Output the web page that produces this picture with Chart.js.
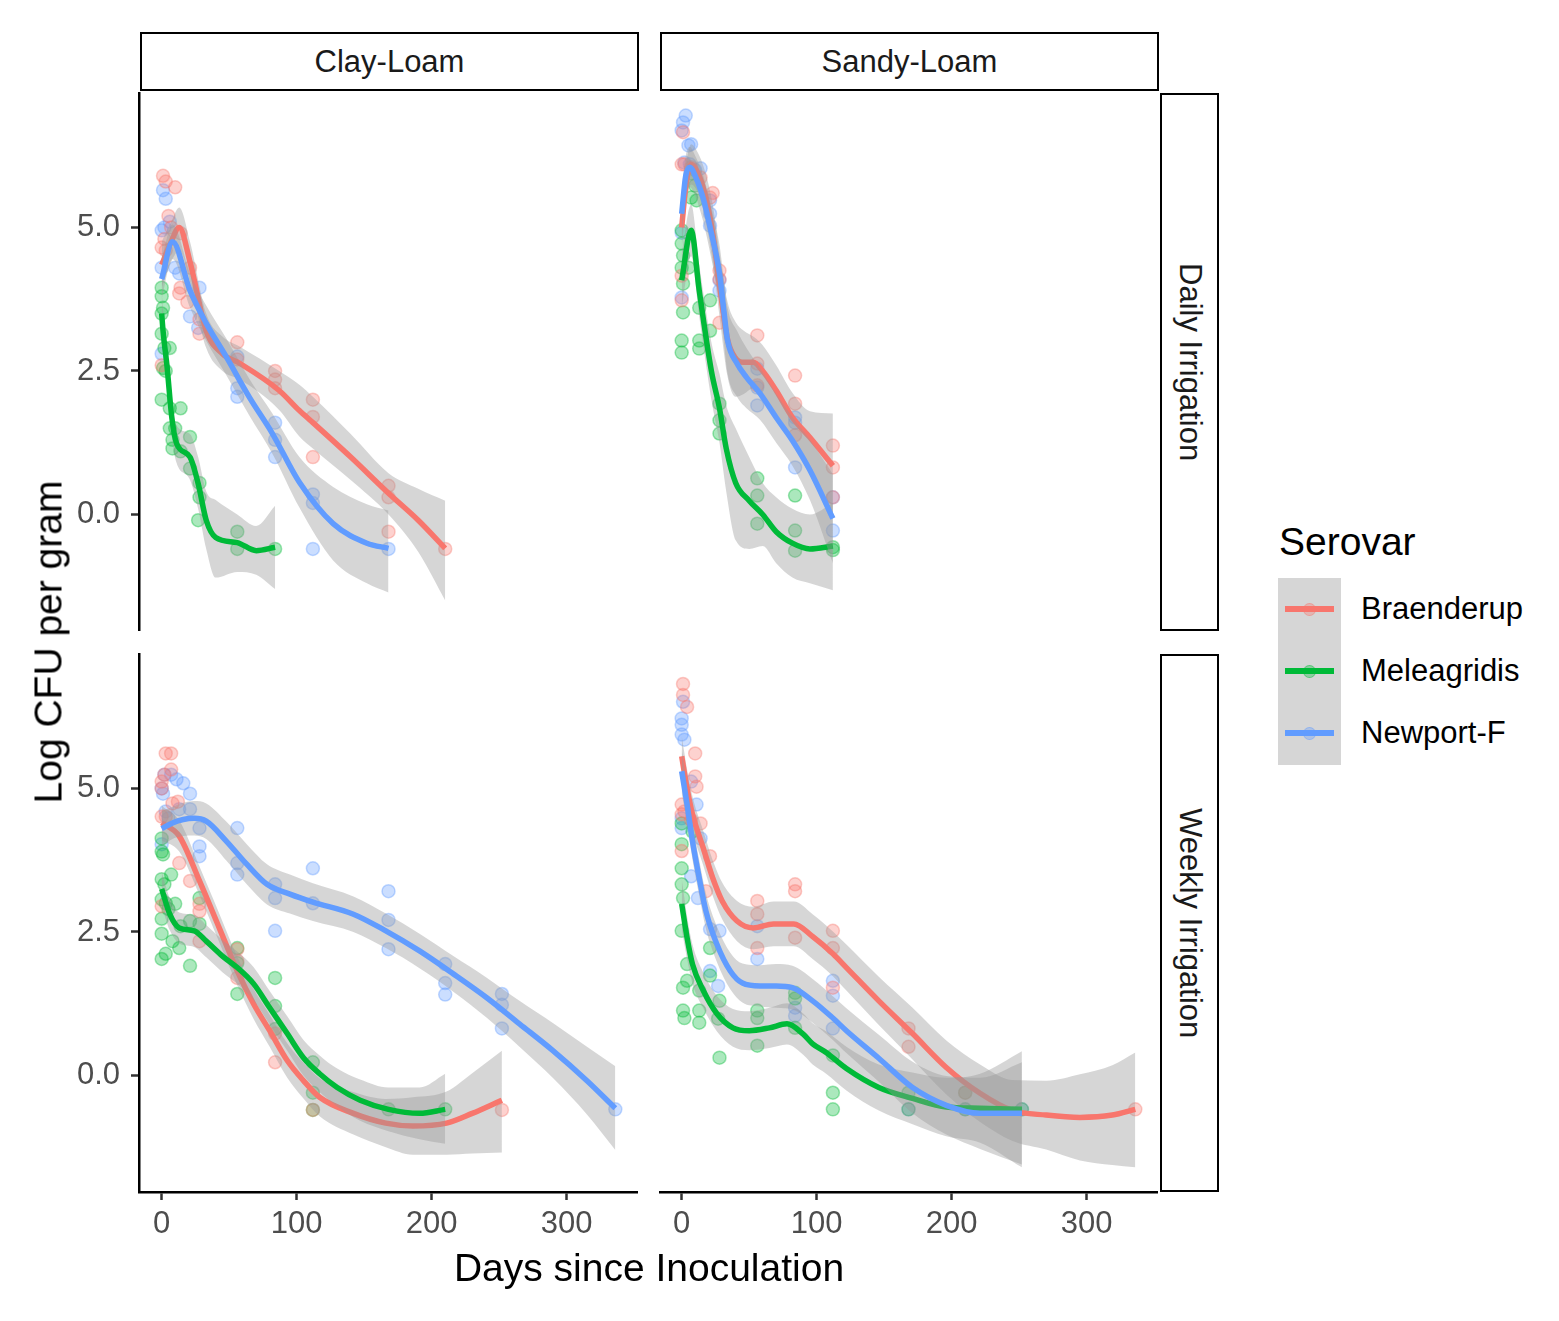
<!DOCTYPE html>
<html>
<head>
<meta charset="utf-8">
<script src="https://cdn.jsdelivr.net/npm/chart.js@4.4.1/dist/chart.umd.min.js"></script>
<style>
  html, body { margin: 0; padding: 0; background: #fff; }
  body { width: 1559px; height: 1321px; position: relative; overflow: hidden;
         font-family: "Liberation Sans", Arial, sans-serif; }
  canvas { position: absolute; }
  .strip { position: absolute; box-sizing: border-box; border: 2.5px solid #000; background: #fff;
           color: #1a1a1a; font-size: 31px; display: flex; align-items: center; justify-content: center; }
  .strip.side span { writing-mode: vertical-rl; }
  .title { position: absolute; font-size: 39px; color: #000; white-space: nowrap; line-height: 1; }
  .legend-label { position: absolute; font-size: 31px; color: #000; line-height: 1; white-space: nowrap; }
</style>
</head>
<body>
<script>
// ---- data ---------------------------------------------------------------
const serovars = ['Braenderup', 'Meleagridis', 'Newport-F'];
const soilTypes = ['Clay-Loam', 'Sandy-Loam'];
const irrigationTypes = ['Daily Irrigation', 'Weekly Irrigation'];
const dayTicks = [0, 100, 200, 300];
const logTicks = [0, 2.5, 5];

// observations: [day, log CFU per gram]
const clayDailyBra = [[0,2.6],[0,4.65],[1,5.9],[2,4.8],[3,5.8],[3,4.6],[5,5.2],[7,5.0],[10,5.7],[13,3.85],[14,4.9],[14,3.95],[19,3.7],[21,4.3],[28,3.15],[28,3.4],[56,3.0],[56,2.7],[84,2.5],[84,2.35],[84,2.2],[112,2.0],[112,1.7],[112,1.0],[168,0.5],[168,0.3],[168,-0.3],[210,-0.6]];
const clayDailyMel = [[0,3.95],[0,3.8],[1,3.6],[0,3.5],[0,3.15],[2,2.9],[6,2.9],[1,2.55],[3,2.5],[0,2.0],[6,1.85],[14,1.85],[6,1.5],[10,1.5],[8,1.3],[21,1.35],[8,1.15],[14,1.1],[21,0.8],[28,0.55],[28,0.3],[27,-0.1],[56,-0.3],[56,-0.6],[84,-0.6]];
const clayDailyNew = [[1,5.65],[3,5.5],[2,5.0],[0,4.95],[6,5.1],[0,4.3],[13,4.2],[10,4.3],[28,3.95],[21,3.45],[27,3.25],[0,2.8],[56,2.75],[56,2.2],[56,2.05],[84,1.6],[84,1.3],[84,1.0],[112,0.35],[112,0.2],[112,-0.6],[168,-0.6]];

const sandyDailyBra = [[1,6.66],[2,6.1],[0,6.1],[7,6.05],[14,5.87],[21,5.52],[23,5.6],[28,4.25],[28,4.1],[0,4.16],[0,3.73],[28,3.34],[56,3.12],[56,2.63],[56,2.25],[84,2.42],[84,1.93],[84,1.38],[112,1.2],[112,0.82],[112,0.3]];
const sandyDailyMel = [[7,5.94],[10,5.73],[7,5.52],[11,5.47],[0,4.95],[0,4.72],[1,4.51],[0,4.3],[5,4.3],[1,4.02],[1,3.52],[13,3.6],[21,3.73],[21,3.2],[0,3.03],[0,2.82],[13,3.03],[13,2.89],[28,1.93],[28,1.64],[28,1.41],[56,0.63],[56,0.33],[56,-0.16],[84,0.33],[84,-0.28],[84,-0.63],[112,-0.57],[112,-0.62]];
const sandyDailyNew = [[3,6.95],[1,6.83],[0,6.69],[5,6.43],[7,6.45],[2,6.13],[6,6.1],[14,6.03],[10,6.0],[21,5.47],[21,5.24],[21,5.03],[0,4.91],[0,3.78],[28,4.08],[28,3.9],[56,2.54],[56,2.21],[56,1.9],[84,1.69],[84,1.6],[84,0.82],[112,0.3],[112,-0.28]];

const clayWeeklyBra = [[3,5.61],[7,5.61],[7,5.33],[0,5.12],[2,5.24],[0,5.0],[12,4.77],[8,4.74],[0,4.51],[3,4.51],[13,3.7],[21,3.39],[28,2.99],[28,2.86],[28,2.34],[0,2.95],[56,2.2],[56,2.0],[56,1.7],[84,0.73],[84,0.23],[112,-0.6],[252,-0.6]];
const clayWeeklyMel = [[0,4.13],[0,3.9],[1,3.85],[7,3.5],[0,3.42],[2,3.33],[0,3.07],[3,3.0],[28,3.09],[10,2.99],[5,2.9],[0,2.73],[21,2.69],[28,2.64],[14,2.6],[0,2.47],[8,2.34],[13,2.22],[0,2.03],[3,2.12],[21,1.91],[56,2.22],[56,1.96],[56,1.42],[84,1.7],[84,1.21],[84,0.81],[112,0.23],[112,-0.3],[112,-0.6],[168,-0.59],[210,-0.59]];
const clayWeeklyNew = [[2,5.24],[7,5.24],[11,5.16],[16,5.09],[1,4.91],[21,4.91],[0,5.0],[13,4.64],[21,4.64],[5,4.48],[3,4.6],[28,4.31],[0,4.03],[28,3.99],[28,3.82],[56,4.31],[56,3.7],[56,3.5],[84,3.33],[84,3.09],[84,2.52],[112,3.61],[112,3.0],[168,3.21],[168,2.71],[168,2.2],[210,1.94],[210,1.61],[210,1.41],[252,1.42],[252,1.23],[252,0.82],[336,-0.59]];

const sandyWeeklyBra = [[1,6.82],[1,6.63],[4,6.42],[10,5.61],[10,5.21],[11,5.03],[0,4.72],[2,4.6],[0,4.55],[7,4.45],[14,4.39],[0,3.91],[21,3.82],[18,3.21],[56,3.04],[56,2.81],[84,3.33],[84,3.21],[84,2.4],[56,2.22],[112,2.52],[112,2.22],[112,1.53],[168,0.82],[168,0.5],[210,-0.3],[336,-0.59]];
const sandyWeeklyMel = [[0,4.39],[0,4.03],[8,4.25],[0,3.61],[0,3.33],[1,3.09],[0,2.52],[4,1.94],[4,1.65],[1,1.53],[13,1.48],[1,1.13],[2,1.0],[13,1.13],[13,0.92],[21,2.22],[21,1.74],[28,1.3],[27,0.99],[28,0.31],[56,1.13],[56,1.0],[56,0.52],[84,1.44],[84,1.34],[84,0.83],[112,0.35],[112,-0.3],[112,-0.59],[168,-0.3],[168,-0.59],[210,-0.3],[210,-0.59],[252,-0.59]];
const sandyWeeklyNew = [[1,6.51],[0,6.22],[0,6.11],[0,5.94],[2,5.85],[7,5.12],[11,4.72],[0,4.31],[0,4.48],[14,4.13],[7,3.47],[12,3.09],[21,2.55],[28,2.52],[21,1.82],[27,1.56],[56,2.6],[56,2.03],[84,1.18],[84,1.04],[112,1.65],[112,1.39],[112,0.82],[168,-0.59],[210,-0.59],[252,-0.59]];

// loess smooth: [day, fit, lower, upper]
const clayDailyBraFit = [[0,4.35,3.95,4.75],[7,4.75,4.4,5.1],[13,5.0,4.6,5.35],[21,4.4,4.05,4.75],[33,3.2,2.9,3.5],[45,2.8,2.5,3.1],[58,2.63,2.35,2.92],[87,2.16,1.82,2.5],[102,1.81,1.36,2.26],[112,1.6,1.15,2.05],[140,1.0,0.6,1.4],[168,0.37,0.0,0.72],[190,-0.1,-0.65,0.45],[210,-0.59,-1.5,0.24]];
const clayDailyMelFit = [[0,3.5,3.1,3.9],[1,3.2,2.85,3.55],[4,2.57,2.25,2.9],[7.5,1.69,1.35,2.0],[11,1.24,0.9,1.55],[21,1.0,0.6,1.4],[27,0.54,0.1,1.0],[33,-0.1,-0.6,0.4],[40,-0.4,-1.1,0.25],[56,-0.49,-1.0,0.0],[70,-0.63,-1.05,-0.2],[84,-0.57,-1.3,0.15]];
const clayDailyNewFit = [[0,4.1,3.75,4.45],[8,4.75,4.45,5.05],[21,3.9,3.6,4.2],[33,3.33,3.02,3.64],[48,2.74,2.42,3.06],[65,2.04,1.72,2.36],[82,1.41,1.06,1.76],[102,0.56,0.12,1.0],[127,-0.16,-0.8,0.48],[152,-0.5,-1.2,0.18],[168,-0.59,-1.36,0.07]];

const sandyDailyBraFit = [[0,5.0,4.6,5.4],[3,5.7,5.35,6.05],[7,6.1,5.75,6.45],[12,5.95,5.6,6.3],[17,5.6,5.2,6.0],[23,4.9,4.4,5.4],[28,4.0,3.45,4.55],[34,3.05,2.4,3.7],[40,2.72,2.05,3.35],[46,2.65,2.1,3.2],[53,2.65,2.2,3.1],[60,2.5,2.05,2.95],[70,2.16,1.72,2.6],[82,1.69,1.25,2.12],[95,1.34,0.85,1.8],[112,0.85,-0.05,1.76]];
const sandyDailyMelFit = [[0,4.08,3.6,4.55],[7,4.95,4.5,5.4],[13,3.9,3.45,4.35],[22,2.5,2.0,3.0],[28,1.85,1.25,2.45],[33,1.15,0.4,1.9],[40,0.55,-0.45,1.5],[50,0.24,-0.6,1.0],[60,0.0,-0.55,0.55],[70,-0.3,-0.85,0.3],[82,-0.5,-1.1,0.1],[95,-0.6,-1.2,0.0],[112,-0.55,-1.32,0.2]];
const sandyDailyNewFit = [[0,5.24,4.85,5.65],[3,5.9,5.55,6.25],[6,6.05,5.7,6.4],[10,5.9,5.55,6.25],[16,5.5,5.1,5.9],[22,4.9,4.45,5.35],[28,4.2,3.7,4.7],[31,3.6,3.05,4.15],[34,3.03,2.45,3.6],[41,2.63,2.05,3.2],[48,2.39,1.85,2.9],[58,2.11,1.65,2.55],[70,1.69,1.25,2.1],[82,1.29,0.85,1.7],[95,0.77,0.25,1.3],[112,-0.07,-0.85,0.7]];

const clayWeeklyBraFit = [[0,4.4,4.1,4.7],[13,4.17,3.9,4.44],[28,3.39,3.14,3.64],[43,2.55,2.3,2.8],[56,1.82,1.57,2.07],[68,1.25,0.99,1.51],[80,0.78,0.5,1.06],[93,0.26,-0.04,0.56],[105,-0.09,-0.4,0.22],[117,-0.38,-0.71,-0.05],[142,-0.66,-1.03,-0.29],[166,-0.83,-1.25,-0.41],[186,-0.88,-1.38,-0.38],[211,-0.83,-1.38,-0.28],[230,-0.66,-1.36,0.04],[252,-0.43,-1.34,0.43]];
const clayWeeklyMelFit = [[0,3.25,2.95,3.55],[6,2.81,2.53,3.09],[13,2.57,2.3,2.84],[24,2.52,2.24,2.8],[33,2.34,2.06,2.62],[45,2.08,1.8,2.36],[56,1.88,1.6,2.16],[68,1.6,1.31,1.89],[80,1.18,0.89,1.47],[93,0.73,0.43,1.03],[105,0.31,0.0,0.62],[117,0.03,-0.29,0.35],[130,-0.21,-0.54,0.12],[147,-0.43,-0.79,-0.07],[168,-0.59,-0.97,-0.21],[191,-0.66,-1.11,-0.21],[210,-0.59,-1.19,0.03]];
const clayWeeklyNewFit = [[0,4.3,4.0,4.6],[8,4.4,4.12,4.68],[16,4.46,4.17,4.75],[24,4.48,4.18,4.78],[33,4.43,4.12,4.74],[48,4.08,3.74,4.42],[63,3.68,3.33,4.03],[78,3.33,2.98,3.68],[95,3.16,2.82,3.5],[112,3.02,2.69,3.35],[142,2.81,2.5,3.12],[166,2.52,2.22,2.82],[191,2.17,1.87,2.47],[216,1.77,1.46,2.08],[241,1.35,1.0,1.7],[265,0.9,0.5,1.3],[290,0.43,-0.05,0.91],[315,-0.09,-0.68,0.5],[336,-0.57,-1.3,0.16]];

const sandyWeeklyBraFit = [[0,5.56,5.2,5.92],[4,5.0,4.67,5.33],[8,4.55,4.24,4.86],[16,3.96,3.66,4.26],[23,3.44,3.13,3.75],[30,3.04,2.72,3.36],[41,2.69,2.34,3.04],[53,2.57,2.2,2.94],[68,2.64,2.25,3.03],[83,2.64,2.25,3.03],[97,2.42,2.03,2.81],[112,2.12,1.73,2.51],[122,1.88,1.48,2.28],[146,1.3,0.88,1.72],[171,0.73,0.28,1.18],[196,0.14,-0.33,0.61],[221,-0.31,-0.81,0.19],[245,-0.61,-1.14,-0.08],[270,-0.69,-1.29,-0.09],[295,-0.73,-1.48,0.02],[319,-0.69,-1.56,0.18],[336,-0.59,-1.6,0.4]];
const sandyWeeklyMelFit = [[0,2.99,2.55,3.43],[4,2.4,2.03,2.77],[8,1.94,1.6,2.28],[16,1.48,1.17,1.79],[26,1.08,0.77,1.39],[38,0.83,0.5,1.16],[50,0.78,0.44,1.12],[65,0.83,0.48,1.18],[78,0.9,0.54,1.26],[90,0.72,0.36,1.08],[97,0.55,0.19,0.91],[107,0.4,0.03,0.77],[122,0.12,-0.26,0.5],[146,-0.21,-0.61,0.19],[171,-0.4,-0.85,0.05],[196,-0.55,-1.06,-0.04],[221,-0.57,-1.17,0.03],[252,-0.59,-1.6,0.42]];
const sandyWeeklyNewFit = [[0,5.3,4.92,5.68],[4,4.72,4.38,5.06],[8,4.08,3.76,4.4],[13,3.44,3.13,3.75],[18,2.86,2.55,3.17],[26,2.29,1.98,2.6],[36,1.82,1.5,2.14],[45,1.61,1.27,1.95],[58,1.56,1.2,1.92],[70,1.56,1.18,1.94],[82,1.53,1.15,1.91],[97,1.3,0.92,1.68],[112,1.0,0.62,1.38],[122,0.78,0.39,1.17],[146,0.3,-0.11,0.71],[171,-0.21,-0.66,0.24],[196,-0.52,-1.03,-0.01],[221,-0.66,-1.28,-0.04],[252,-0.66,-1.55,0.23]];

// ---- look -----------------------------------------------------------------
const colours = ['#F8766D', '#00BA38', '#619CFF'];
const FONT = '"Liberation Sans", Arial, sans-serif';
const PANEL_W = 499, PANEL_H = 539, Y_AXIS_W = 139, X_AXIS_H = 90;
const colLeft = [139, 659];
const rowTop = [92, 653];

const panels = [
  { row: 0, col: 0, pts: [clayDailyBra, clayDailyMel, clayDailyNew], fits: [clayDailyBraFit, clayDailyMelFit, clayDailyNewFit] },
  { row: 0, col: 1, pts: [sandyDailyBra, sandyDailyMel, sandyDailyNew], fits: [sandyDailyBraFit, sandyDailyMelFit, sandyDailyNewFit] },
  { row: 1, col: 0, pts: [clayWeeklyBra, clayWeeklyMel, clayWeeklyNew], fits: [clayWeeklyBraFit, clayWeeklyMelFit, clayWeeklyNewFit] },
  { row: 1, col: 1, pts: [sandyWeeklyBra, sandyWeeklyMel, sandyWeeklyNew], fits: [sandyWeeklyBraFit, sandyWeeklyMelFit, sandyWeeklyNewFit] }
];

function rgba(hex, a) {
  const n = parseInt(hex.slice(1), 16);
  return 'rgba(' + (n >> 16) + ',' + ((n >> 8) & 255) + ',' + (n & 255) + ',' + a + ')';
}

function column(rows, i) {
  return rows.map(r => ({ x: r[0], y: r[i] }));
}

function buildDatasets(p) {
  const sets = [];
  p.pts.forEach((rows, s) => {
    sets.push({
      label: serovars[s], data: column(rows, 1), order: 100,
      pointRadius: 6.5, pointBackgroundColor: rgba(colours[s], 0.33),
      pointBorderColor: rgba(colours[s], 0.38), pointBorderWidth: 1.5
    });
  });
  p.fits.forEach((rows, s) => {
    const base = 90 - s * 10;
    sets.push({
      type: 'line', data: column(rows, 2), order: base,
      borderColor: 'rgba(0,0,0,0)', borderWidth: 0, pointRadius: 0,
      cubicInterpolationMode: 'monotone', fill: false
    });
    sets.push({
      type: 'line', data: column(rows, 3), order: base - 1,
      borderColor: 'rgba(0,0,0,0)', borderWidth: 0, pointRadius: 0,
      cubicInterpolationMode: 'monotone',
      fill: '-1', backgroundColor: 'rgba(153,153,153,0.4)'
    });
    sets.push({
      type: 'line', data: column(rows, 1), order: base - 2,
      borderColor: colours[s], borderWidth: 5.5, pointRadius: 0,
      cubicInterpolationMode: 'monotone', fill: false
    });
  });
  return sets;
}

function axisStyle(show) {
  return {
    grid: { display: show, drawOnChartArea: false, drawTicks: true, tickLength: 8, tickWidth: 2.5, tickColor: '#333333' },
    border: { display: show, color: '#000', width: 2.5 }
  };
}

panels.forEach(p => {
  const showY = p.col === 0, showX = p.row === 1;
  const cv = document.createElement('canvas');
  const left = showY ? 0 : colLeft[p.col];
  const w = PANEL_W + (showY ? Y_AXIS_W : 0);
  const h = PANEL_H + (showX ? X_AXIS_H : 0);
  cv.width = w; cv.height = h;
  cv.style.left = left + 'px'; cv.style.top = rowTop[p.row] + 'px';
  cv.style.width = w + 'px'; cv.style.height = h + 'px';
  document.body.appendChild(cv);

  const xAxis = Object.assign({
    type: 'linear', min: -16.8, max: 352.8, display: showX,
    afterBuildTicks: s => { s.ticks = dayTicks.map(v => ({ value: v })); },
    ticks: { autoSkip: false, maxRotation: 0, padding: 6, color: '#4D4D4D',
             font: { family: FONT, size: 31 }, callback: v => String(v) }
  }, axisStyle(showX));
  if (showX) xAxis.afterFit = s => { s.height = X_AXIS_H; s.paddingLeft = 0; s.paddingRight = 0; };

  const yAxis = Object.assign({
    type: 'linear', min: -2.03, max: 7.36, display: showY,
    afterBuildTicks: s => { s.ticks = logTicks.map(v => ({ value: v })); },
    ticks: { autoSkip: false, padding: 11, color: '#4D4D4D',
             font: { family: FONT, size: 31 }, callback: v => Number(v).toFixed(1) }
  }, axisStyle(showY));
  if (showY) yAxis.afterFit = s => { s.width = Y_AXIS_W; s.paddingTop = 0; s.paddingBottom = 0; };

  new Chart(cv, {
    type: 'scatter',
    data: { datasets: buildDatasets(p) },
    options: {
      responsive: false, animation: false, events: [],
      layout: { padding: 0, autoPadding: false },
      plugins: { legend: { display: false }, tooltip: { enabled: false } },
      scales: { x: xAxis, y: yAxis }
    }
  });
});

// ---- facet strips ---------------------------------------------------------
soilTypes.forEach((name, c) => {
  const d = document.createElement('div');
  d.className = 'strip';
  d.style.left = (colLeft[c] + 1) + 'px'; d.style.top = '32px';
  d.style.width = PANEL_W + 'px'; d.style.height = '59px';
  d.textContent = name;
  document.body.appendChild(d);
});
irrigationTypes.forEach((name, r) => {
  const d = document.createElement('div');
  d.className = 'strip side';
  d.style.left = '1160px'; d.style.top = (rowTop[r] + 1) + 'px';
  d.style.width = '59px'; d.style.height = (PANEL_H - 1) + 'px';
  const sp = document.createElement('span');
  sp.textContent = name;
  d.appendChild(sp);
  document.body.appendChild(d);
});

// ---- axis titles ----------------------------------------------------------
const yTitle = document.createElement('div');
yTitle.className = 'title';
yTitle.textContent = 'Log CFU per gram';
yTitle.style.left = '48px'; yTitle.style.top = '642px';
yTitle.style.transform = 'translate(-50%,-50%) rotate(-90deg)';
document.body.appendChild(yTitle);

const xTitle = document.createElement('div');
xTitle.className = 'title';
xTitle.textContent = 'Days since Inoculation';
xTitle.style.left = '649px'; xTitle.style.top = '1267px';
xTitle.style.transform = 'translate(-50%,-50%)';
document.body.appendChild(xTitle);

// ---- legend ---------------------------------------------------------------
const lt = document.createElement('div');
lt.className = 'title';
lt.textContent = 'Serovar';
lt.style.left = '1279px'; lt.style.top = '522px';
document.body.appendChild(lt);

const keyBox = document.createElement('div');
Object.assign(keyBox.style, { position: 'absolute', left: '1278px', top: '578px', width: '63px', height: '187px',
  background: 'rgba(153,153,153,0.4)' });
document.body.appendChild(keyBox);

serovars.forEach((name, s) => {
  const cy = 609 + s * 62;
  const pt = document.createElement('div');
  Object.assign(pt.style, { position: 'absolute', left: (1309.5 - 6.5) + 'px', top: (cy - 6.5) + 'px',
    width: '13px', height: '13px', borderRadius: '50%', boxSizing: 'border-box',
    background: rgba(colours[s], 0.33), border: '1.5px solid ' + rgba(colours[s], 0.38) });
  document.body.appendChild(pt);
  const ln = document.createElement('div');
  Object.assign(ln.style, { position: 'absolute', left: '1285px', top: (cy - 3) + 'px', width: '49px', height: '6px',
    background: colours[s] });
  document.body.appendChild(ln);
  const lb = document.createElement('div');
  lb.className = 'legend-label';
  lb.textContent = name;
  lb.style.left = '1361px'; lb.style.top = (cy - 16) + 'px';
  document.body.appendChild(lb);
});
</script>
</body>
</html>
